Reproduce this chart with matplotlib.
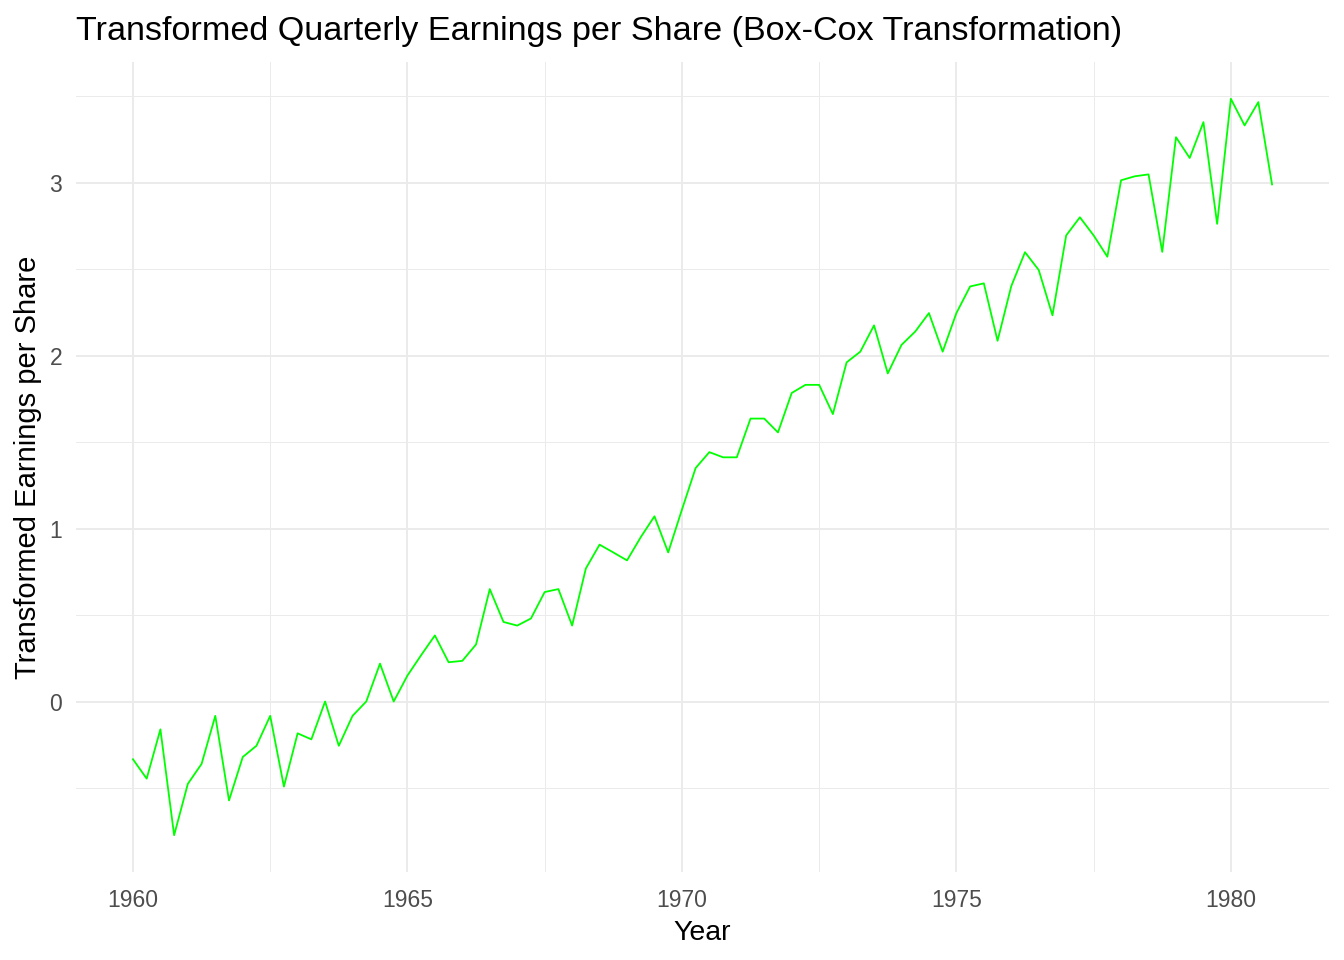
import matplotlib
matplotlib.use('Agg')
import matplotlib.pyplot as plt
from matplotlib.ticker import MultipleLocator
import numpy as np

plt.rcParams['font.family'] = ['Liberation Sans', 'DejaVu Sans']

# Quarterly time index, 1960 Q1 .. 1980 Q4
years = list(range(1960, 1981))
quarters = [0.0, 0.25, 0.5, 0.75]

# Box-Cox transformed earnings per share, one row per year
eps_bc = [
    [-0.334, -0.446, -0.161, -0.773],
    [-0.476, -0.361, -0.083, -0.572],
    [-0.321, -0.256, -0.083, -0.492],
    [-0.184, -0.219, 0.000, -0.256],
    [-0.083, 0.000, 0.219, 0.000],
    [0.150, 0.268, 0.382, 0.227],
    [0.235, 0.330, 0.650, 0.460],
    [0.439, 0.480, 0.633, 0.650],
    [0.439, 0.769, 0.907, 0.862],
    [0.816, 0.950, 1.071, 0.862],
    [1.109, 1.350, 1.442, 1.412],
    [1.412, 1.636, 1.636, 1.556],
    [1.784, 1.831, 1.831, 1.662],
    [1.961, 2.023, 2.175, 1.897],
    [2.062, 2.139, 2.246, 2.023],
    [2.246, 2.400, 2.418, 2.086],
    [2.402, 2.598, 2.495, 2.233],
    [2.695, 2.800, 2.695, 2.572],
    [3.014, 3.037, 3.048, 2.600],
    [3.263, 3.143, 3.350, 2.762],
    [3.485, 3.331, 3.466, 2.990],
]

t = [y + q for y in years for q in quarters]
vals = [v for row in eps_bc for v in row]

fig = plt.figure(figsize=(13.44, 9.6), dpi=100)
ax = fig.add_axes([76 / 1344, 1 - 872 / 960, (1329 - 76) / 1344, (872 - 62) / 960])

ax.plot(t, vals, color='#00FF00', linewidth=1.3, zorder=3)

ax.margins(x=0.05, y=0.05)
ax.xaxis.set_major_locator(MultipleLocator(5))
ax.xaxis.set_minor_locator(MultipleLocator(2.5))
ax.yaxis.set_major_locator(MultipleLocator(1))
ax.yaxis.set_minor_locator(MultipleLocator(0.5))

ax.grid(which='major', color='#EBEBEB', linewidth=1.4)
ax.grid(which='minor', color='#EBEBEB', linewidth=0.7)
ax.set_axisbelow(True)
for s in ax.spines.values():
    s.set_visible(False)
ax.tick_params(which='both', length=0, labelsize=16.5, labelcolor='#4D4D4D')
ax.tick_params(axis='x', pad=12)
ax.tick_params(axis='y', pad=10)

ax.set_xlabel('Year', fontsize=20.5, labelpad=6)
ax.set_ylabel('Transformed Earnings per Share', fontsize=21, labelpad=5)
ax.set_title('Transformed Quarterly Earnings per Share (Box-Cox Transformation)',
             fontsize=24.6, loc='left', pad=16)

fig.savefig('out.png', dpi=100)
